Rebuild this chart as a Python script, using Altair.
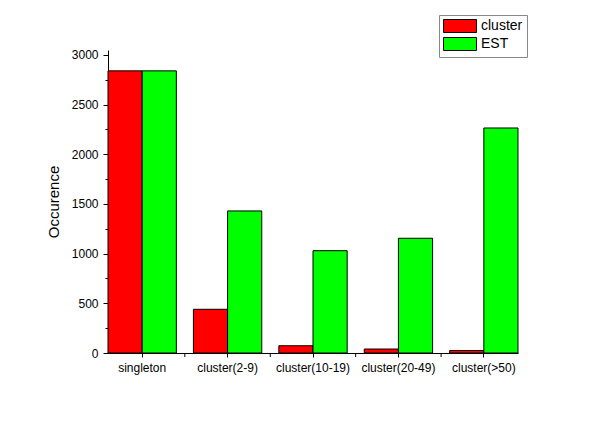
import altair as alt
import pandas as pd

categories = ["singleton", "cluster(2-9)", "cluster(10-19)", "cluster(20-49)", "cluster(>50)"]
series = ["cluster", "EST"]
cluster_values = [2840, 440, 73, 40, 25]
est_values = [2840, 1430, 1030, 1155, 2265]
y_ticks = list(range(0, 3001, 250))
colors = ["#FF0000", "#00FF00"]

rows = []
for c, a, b in zip(categories, cluster_values, est_values):
    rows.append({"category": c, "series": series[0], "value": a})
    rows.append({"category": c, "series": series[1], "value": b})
df = pd.DataFrame(rows)
bounds = pd.DataFrame({"category": categories[:-1]})

FONT = "Liberation Sans"

x_scale = alt.Scale(paddingInner=0.2, paddingOuter=0)

bars = alt.Chart(df).mark_bar(stroke="black", strokeWidth=1).encode(
    x=alt.X(
        "category:N", sort=categories, title=None, scale=x_scale,
        axis=alt.Axis(labelAngle=0, labelFontSize=12, labelFont=FONT, labelColor="black",
                      tickSize=4, tickColor="black", domainColor="black", labelPadding=5),
    ),
    xOffset=alt.XOffset("series:N", sort=series),
    y=alt.Y(
        "value:Q", title="Occurence",
        scale=alt.Scale(domain=[0, 3050], nice=False, zero=True),
        axis=alt.Axis(
            values=y_ticks, format="d",
            labelExpr="datum.value % 500 === 0 ? datum.label : ''",
            tickSize={"condition": {"test": "datum.value % 500 === 0", "value": 5}, "value": 3},
            tickColor="black", domainColor="black", labelColor="black",
            labelFontSize=12, labelFont=FONT, labelPadding=5, grid=False,
            titleFont=FONT, titleFontSize=15, titleFontWeight="normal", titleColor="black",
            titlePadding=10,
        ),
    ),
    color=alt.Color(
        "series:N", sort=series,
        scale=alt.Scale(domain=series, range=colors),
        legend=alt.Legend(
            title=None, orient="none", legendX=331, legendY=-35,
            symbolType="M-1,-1H4.08V1H-1Z", symbolSize=169,
            symbolStrokeColor="black", symbolStrokeWidth=1,
            labelFontSize=14, labelFont=FONT, labelColor="black",
            labelExpr="datum.label + '  '",
            labelOffset=24, rowPadding=0,
            strokeColor="#888", fillColor="white", padding=4,
        ),
    ),
)

ticks = alt.Chart(bounds).mark_rule(color="black", xOffset=8.5).encode(
    x=alt.X("category:N", sort=categories, bandPosition=1, scale=x_scale),
    y=alt.value(303),
    y2=alt.value(307),
)

chart = alt.layer(bars, ticks).properties(
    width=410, height=303,
    padding={"left": 100, "top": 42, "right": 70, "bottom": 60},
    autosize="none",
).configure_view(stroke=None)

chart.save("out.html", embed_options={"renderer": "svg", "actions": False})
